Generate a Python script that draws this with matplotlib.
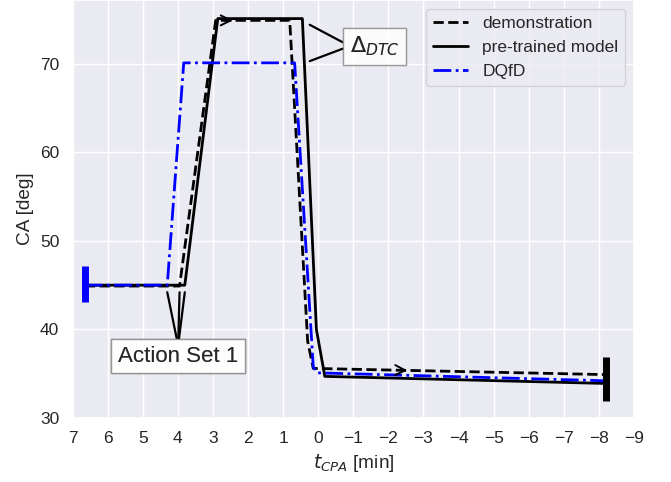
import numpy as np
import matplotlib
matplotlib.use("Agg")
import matplotlib.pyplot as plt
import seaborn as sns

# time to CPA [min] and course angle [deg] for each trajectory
t_demo = [6.65, 3.95, 2.92, 0.81, 0.30, 0.14, -8.2]
ca_demo = [44.9, 44.9, 74.9, 74.9, 38.7, 35.6, 34.9]

t_pre = [6.65, 3.80, 2.86, 0.45, 0.05, -0.19, -8.2]
ca_pre = [45.0, 45.0, 75.1, 75.1, 40.0, 34.7, 33.9]

t_dqfd = [6.65, 4.30, 3.83, 0.67, 0.14, 0.03, -8.2]
ca_dqfd = [45.0, 45.0, 70.1, 70.1, 35.8, 35.1, 34.2]

# start / end markers
t_start, ca_start = 6.65, (43.1, 47.2)
t_end, ca_end = -8.2, (31.9, 36.9)

# onset of action set 1 for DQfD, demonstration, pre-trained model
t_action = [4.30, 3.95, 3.80]
ca_action = 44.2

sns.set_theme(style="darkgrid", font_scale=1.14)
plt.rcParams["font.family"] = ["Liberation Sans", "DejaVu Sans"]

fig = plt.figure(figsize=(6.71, 4.82), dpi=100)
ax = fig.add_axes([72.5 / 671, 64 / 482, (634 - 72.5) / 671, 418 / 482])

ax.plot(t_demo, ca_demo, "--", color="black", lw=2, label="demonstration")
ax.plot(t_pre, ca_pre, "-", color="black", lw=2, label="pre-trained model")
ax.plot(t_dqfd, ca_dqfd, "-.", color="blue", lw=2, label="DQfD")

ax.vlines(t_start, *ca_start, color="blue", lw=5)
ax.vlines(t_end, *ca_end, color="black", lw=5)

# direction arrows along the demonstration
ax.annotate("", xy=(2.35, 74.9), xytext=(2.75, 74.9),
            arrowprops=dict(arrowstyle="->", color="black", lw=1.4, mutation_scale=18))
ax.annotate("", xy=(-2.62, 35.37), xytext=(-2.2, 35.41),
            arrowprops=dict(arrowstyle="->", color="black", lw=1.4, mutation_scale=18))

box = dict(boxstyle="square,pad=0.3", facecolor="white", alpha=0.6, edgecolor="gray")

# delta DTC marker
for y in [74.4, 70.3]:
    ax.annotate(r"$\Delta_{DTC}$", xy=(0.24, y), xytext=(-1.61, 72.0),
                ha="center", va="center", fontsize=16, bbox=box,
                arrowprops=dict(arrowstyle="-", color="black", lw=1.6,
                                relpos=(0, 0.5), shrinkA=0, shrinkB=0))

for t in t_action:
    ax.annotate("Action Set 1", xy=(t, ca_action), xytext=(3.99, 37.0),
                ha="center", va="center", fontsize=16, bbox=box,
                arrowprops=dict(arrowstyle="-", color="black", lw=1.6,
                                relpos=(0.5, 1), shrinkA=0, shrinkB=0))

ax.set_xlim(7, -9)
ax.set_ylim(30, 77.2)
ax.set_xticks(np.arange(7, -10, -1))
ax.set_yticks([30, 40, 50, 60, 70])
ax.set_xlabel(r"$t_{CPA}$ [min]")
ax.set_ylabel("CA [deg]")
ax.legend(loc="upper right")

fig.savefig("out.png", dpi=100)
